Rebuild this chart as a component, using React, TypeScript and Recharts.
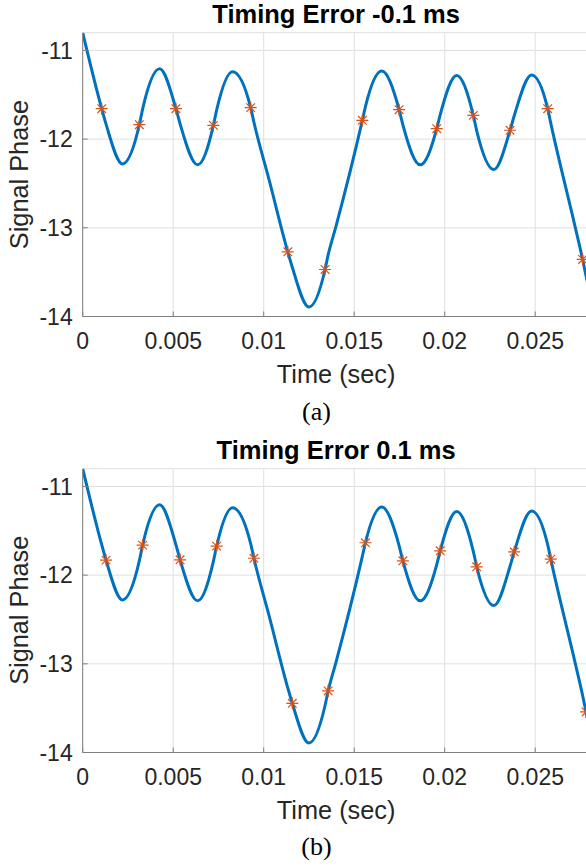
import React from 'react';
import { ComposedChart, Line, Scatter, XAxis, YAxis, CartesianGrid } from 'recharts';

// signal phase curve (same trace in both panels)
const curveTime = [0, 0.00105, 0.00129, 0.0022, 0.00313, 0.00331, 0.00425, 0.00515, 0.00538, 0.00635, 0.00722, 0.0074, 0.00828, 0.00928, 0.00946, 0.0103, 0.01133, 0.01158, 0.0125, 0.01339, 0.01356, 0.01397, 0.01545, 0.01562, 0.01652, 0.01748, 0.01769, 0.01865, 0.01956, 0.01975, 0.02066, 0.02158, 0.02177, 0.02272, 0.02361, 0.02384, 0.0248, 0.02569, 0.02586, 0.02722, 0.02762, 0.02781, 0.028];
const curvePhase = [-10.8, -11.657, -11.831, -12.28, -11.837, -11.662, -11.207, -11.657, -11.827, -12.29, -11.845, -11.673, -11.24, -11.645, -11.81, -12.46, -13.271, -13.445, -13.893, -13.47, -13.306, -13.0, -11.788, -11.635, -11.233, -11.668, -11.839, -12.29, -11.882, -11.726, -11.282, -11.732, -11.906, -12.343, -11.9, -11.737, -11.276, -11.657, -11.82, -13.0, -13.357, -13.543, -13.72];

// sampling instants, timing error -0.1 ms
const starTimeA = [0.00105, 0.00313, 0.00515, 0.00722, 0.00928, 0.01133, 0.01339, 0.01545, 0.01748, 0.01956, 0.02158, 0.02361, 0.02569, 0.02762];
const starPhaseA = [-11.657, -11.837, -11.657, -11.845, -11.645, -13.271, -13.47, -11.788, -11.668, -11.882, -11.732, -11.9, -11.657, -13.357];

// sampling instants, timing error 0.1 ms
const starTimeB = [0.00129, 0.00331, 0.00538, 0.0074, 0.00946, 0.01158, 0.01356, 0.01562, 0.01769, 0.01975, 0.02177, 0.02384, 0.02586, 0.02781];
const starPhaseB = [-11.831, -11.662, -11.827, -11.673, -11.81, -13.445, -13.306, -11.635, -11.839, -11.726, -11.906, -11.737, -11.82, -13.543];

const xTicks = [0, 0.005, 0.01, 0.015, 0.02, 0.025];
const xTickLabels = ['0', '0.005', '0.01', '0.015', '0.02', '0.025'];
const yTicks = [-14, -13, -12, -11];
const yTickLabels = ['-14', '-13', '-12', '-11'];

const curve = curveTime.map((t, i) => ({ t, v: curvePhase[i] }));
const starsA = starTimeA.map((t, i) => ({ t, v: starPhaseA[i] }));
const starsB = starTimeB.map((t, i) => ({ t, v: starPhaseB[i] }));

const FONT = '"Liberation Sans", Arial, Helvetica, sans-serif';
const AXIS = '#808080';
const TEXT = '#262626';

const BottomTick = (props: any) => {
  const { x, y, payload } = props;
  const idx = xTicks.indexOf(payload.value);
  return (
    <g>
      <line x1={x} x2={x} y1={y} y2={y - 5} stroke={AXIS} strokeWidth={1} />
      <text x={x} y={y + 32.8} textAnchor="middle" fontSize={23} fontFamily={FONT} fill={TEXT}>
        {idx >= 0 ? xTickLabels[idx] : payload.value}
      </text>
    </g>
  );
};

const TopTick = (props: any) => {
  const { x, y } = props;
  return <line x1={x} x2={x} y1={y} y2={y + 5} stroke={AXIS} strokeWidth={1} />;
};

const LeftTick = (props: any) => {
  const { x, y, payload } = props;
  const idx = yTicks.indexOf(payload.value);
  return (
    <g>
      <line x1={x} x2={x + 5} y1={y} y2={y} stroke={AXIS} strokeWidth={1} />
      <text x={x - 10} y={y + 8.2} textAnchor="end" fontSize={23} fontFamily={FONT} fill={TEXT}>
        {idx >= 0 ? yTickLabels[idx] : payload.value}
      </text>
    </g>
  );
};

const RightTick = (props: any) => {
  const { x, y } = props;
  return <line x1={x} x2={x - 5} y1={y} y2={y} stroke={AXIS} strokeWidth={1} />;
};

// MATLAB style '*' marker
const Asterisk = (props: any) => {
  const { cx, cy } = props;
  if (cx == null || cy == null) return <g />;
  const r = 6;
  const d = 4.3;
  return (
    <g stroke="#D95319" strokeWidth={1.2}>
      <line x1={cx - r} x2={cx + r} y1={cy} y2={cy} />
      <line x1={cx} x2={cx} y1={cy - r} y2={cy + r} />
      <line x1={cx - d} x2={cx + d} y1={cy - d} y2={cy + d} />
      <line x1={cx - d} x2={cx + d} y1={cy + d} y2={cy - d} />
    </g>
  );
};

const PhasePanel: React.FC<{ stars: { t: number; v: number }[] }> = ({ stars }) => (
  <ComposedChart
    width={600}
    height={400}
    margin={{ top: 32.7, right: 10.5, left: 22.7, bottom: 0 }}
  >
    <CartesianGrid stroke="#dfdfdf" strokeWidth={1} />
    <XAxis
      dataKey="t"
      type="number"
      domain={[0, 0.028]}
      ticks={xTicks}
      allowDataOverflow
      height={83.5}
      tickSize={0}
      tickMargin={0}
      tickLine={false}
      axisLine={{ stroke: AXIS }}
      tick={<BottomTick />}
      interval={0}
    />
    <XAxis
      xAxisId="top"
      orientation="top"
      type="number"
      domain={[0, 0.028]}
      ticks={xTicks}
      allowDataOverflow
      height={0}
      tickSize={0}
      tickMargin={0}
      tickLine={false}
      axisLine={false}
      tick={<TopTick />}
      interval={0}
    />
    <YAxis
      dataKey="v"
      type="number"
      domain={[-14, -10.8]}
      ticks={yTicks}
      allowDataOverflow
      width={60}
      tickSize={0}
      tickMargin={0}
      tickLine={false}
      axisLine={{ stroke: AXIS }}
      tick={<LeftTick />}
      interval={0}
    />
    <YAxis
      yAxisId="right"
      orientation="right"
      type="number"
      domain={[-14, -10.8]}
      ticks={yTicks}
      allowDataOverflow
      width={0}
      tickSize={0}
      tickMargin={0}
      tickLine={false}
      axisLine={false}
      tick={<RightTick />}
      interval={0}
    />
    <Line
      data={curve}
      dataKey="v"
      type="monotone"
      stroke="#0072BD"
      strokeWidth={3}
      dot={false}
      activeDot={false}
      isAnimationActive={false}
    />
    <Scatter data={stars} dataKey="v" shape={<Asterisk />} isAnimationActive={false} />
  </ComposedChart>
);

const PANEL_B = 435.7;

const Labels: React.FC<{ offset: number; title: string; caption: string }> = ({ offset, title, caption }) => (
  <g>
    <text x={336.1} y={offset + 23} textAnchor="middle" fontSize={25.5} fontWeight="bold" fontFamily={FONT} fill="#000">
      {title}
    </text>
    <text x={336.1} y={offset + 383.3} textAnchor="middle" fontSize={25.3} fontFamily={FONT} fill={TEXT}>
      Time (sec)
    </text>
    <text
      transform={`translate(28, ${offset + 174.6}) rotate(-90)`}
      textAnchor="middle"
      fontSize={25.3}
      fontFamily={FONT}
      fill={TEXT}
    >
      Signal Phase
    </text>
    <text x={316.5} y={offset + 419.5} textAnchor="middle" fontSize={26} fontFamily='"Liberation Serif", "Times New Roman", serif' fill="#000">
      {caption}
    </text>
  </g>
);

const App: React.FC = () => (
  <div style={{ position: 'absolute', left: 0, top: 0, width: 586, height: 867, overflow: 'hidden', background: '#fff' }}>
    <div style={{ position: 'absolute', left: 0, top: 0 }}>
      <PhasePanel stars={starsA} />
    </div>
    <div style={{ position: 'absolute', left: 0, top: PANEL_B }}>
      <PhasePanel stars={starsB} />
    </div>
    <svg width={586} height={867} style={{ position: 'absolute', left: 0, top: 0, pointerEvents: 'none' }}>
      <Labels offset={0} title="Timing Error -0.1 ms" caption="(a)" />
      <Labels offset={PANEL_B} title="Timing Error 0.1 ms" caption="(b)" />
    </svg>
  </div>
);

export default App;
